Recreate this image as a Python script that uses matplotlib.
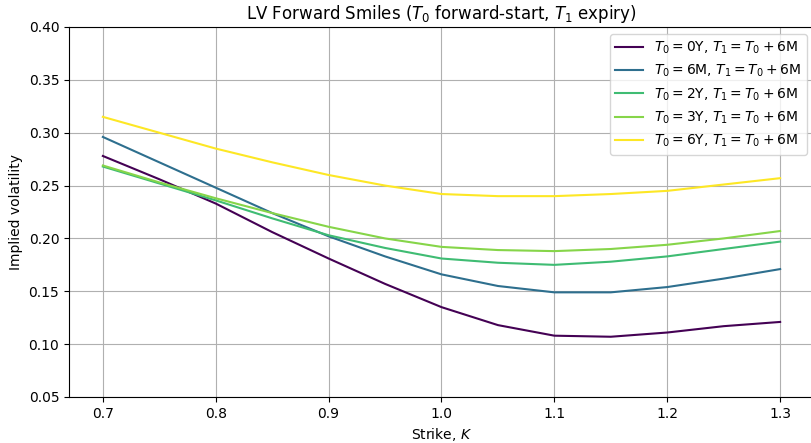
import matplotlib
matplotlib.use("Agg")
import matplotlib.pyplot as plt
import numpy as np

strikes = [0.70, 0.75, 0.80, 0.85, 0.90, 0.95, 1.00, 1.05, 1.10, 1.15, 1.20, 1.25, 1.30]

labels = [
    r"$T_0 = 0$Y, $T_1 = T_0 + 6$M",
    r"$T_0 = 6$M, $T_1 = T_0 + 6$M",
    r"$T_0 = 2$Y, $T_1 = T_0 + 6$M",
    r"$T_0 = 3$Y, $T_1 = T_0 + 6$M",
    r"$T_0 = 6$Y, $T_1 = T_0 + 6$M",
]

vol_0y = [0.278, 0.256, 0.233, 0.206, 0.181, 0.157, 0.135, 0.118, 0.108, 0.107, 0.111, 0.117, 0.121]
vol_6m = [0.296, 0.272, 0.248, 0.224, 0.202, 0.183, 0.166, 0.155, 0.149, 0.149, 0.154, 0.162, 0.171]
vol_2y = [0.268, 0.252, 0.236, 0.219, 0.203, 0.191, 0.181, 0.177, 0.175, 0.178, 0.183, 0.190, 0.197]
vol_3y = [0.269, 0.253, 0.238, 0.224, 0.211, 0.200, 0.192, 0.189, 0.188, 0.190, 0.194, 0.200, 0.207]
vol_6y = [0.315, 0.300, 0.285, 0.272, 0.260, 0.250, 0.242, 0.240, 0.240, 0.242, 0.245, 0.251, 0.257]

series = [vol_0y, vol_6m, vol_2y, vol_3y, vol_6y]
cmap_pos = [0.0, 0.36, 0.69, 0.82, 1.0]

fig = plt.figure(figsize=(8.11, 4.43), dpi=100)
ax = fig.add_axes([69/811, 46/443, 745/811, 370/443])
colors = plt.cm.viridis(cmap_pos)
for vals, lab, c in zip(series, labels, colors):
    ax.plot(strikes, vals, color=c, lw=1.5, label=lab)

ax.set_ylim(0.05, 0.40)
ax.set_title(r"LV Forward Smiles ($T_0$ forward-start, $T_1$ expiry)")
ax.set_xlabel(r"Strike, $K$")
ax.set_ylabel("Implied volatility")
ax.grid(True)
ax.legend(loc="upper right")
fig.savefig("out.png", dpi=100)
